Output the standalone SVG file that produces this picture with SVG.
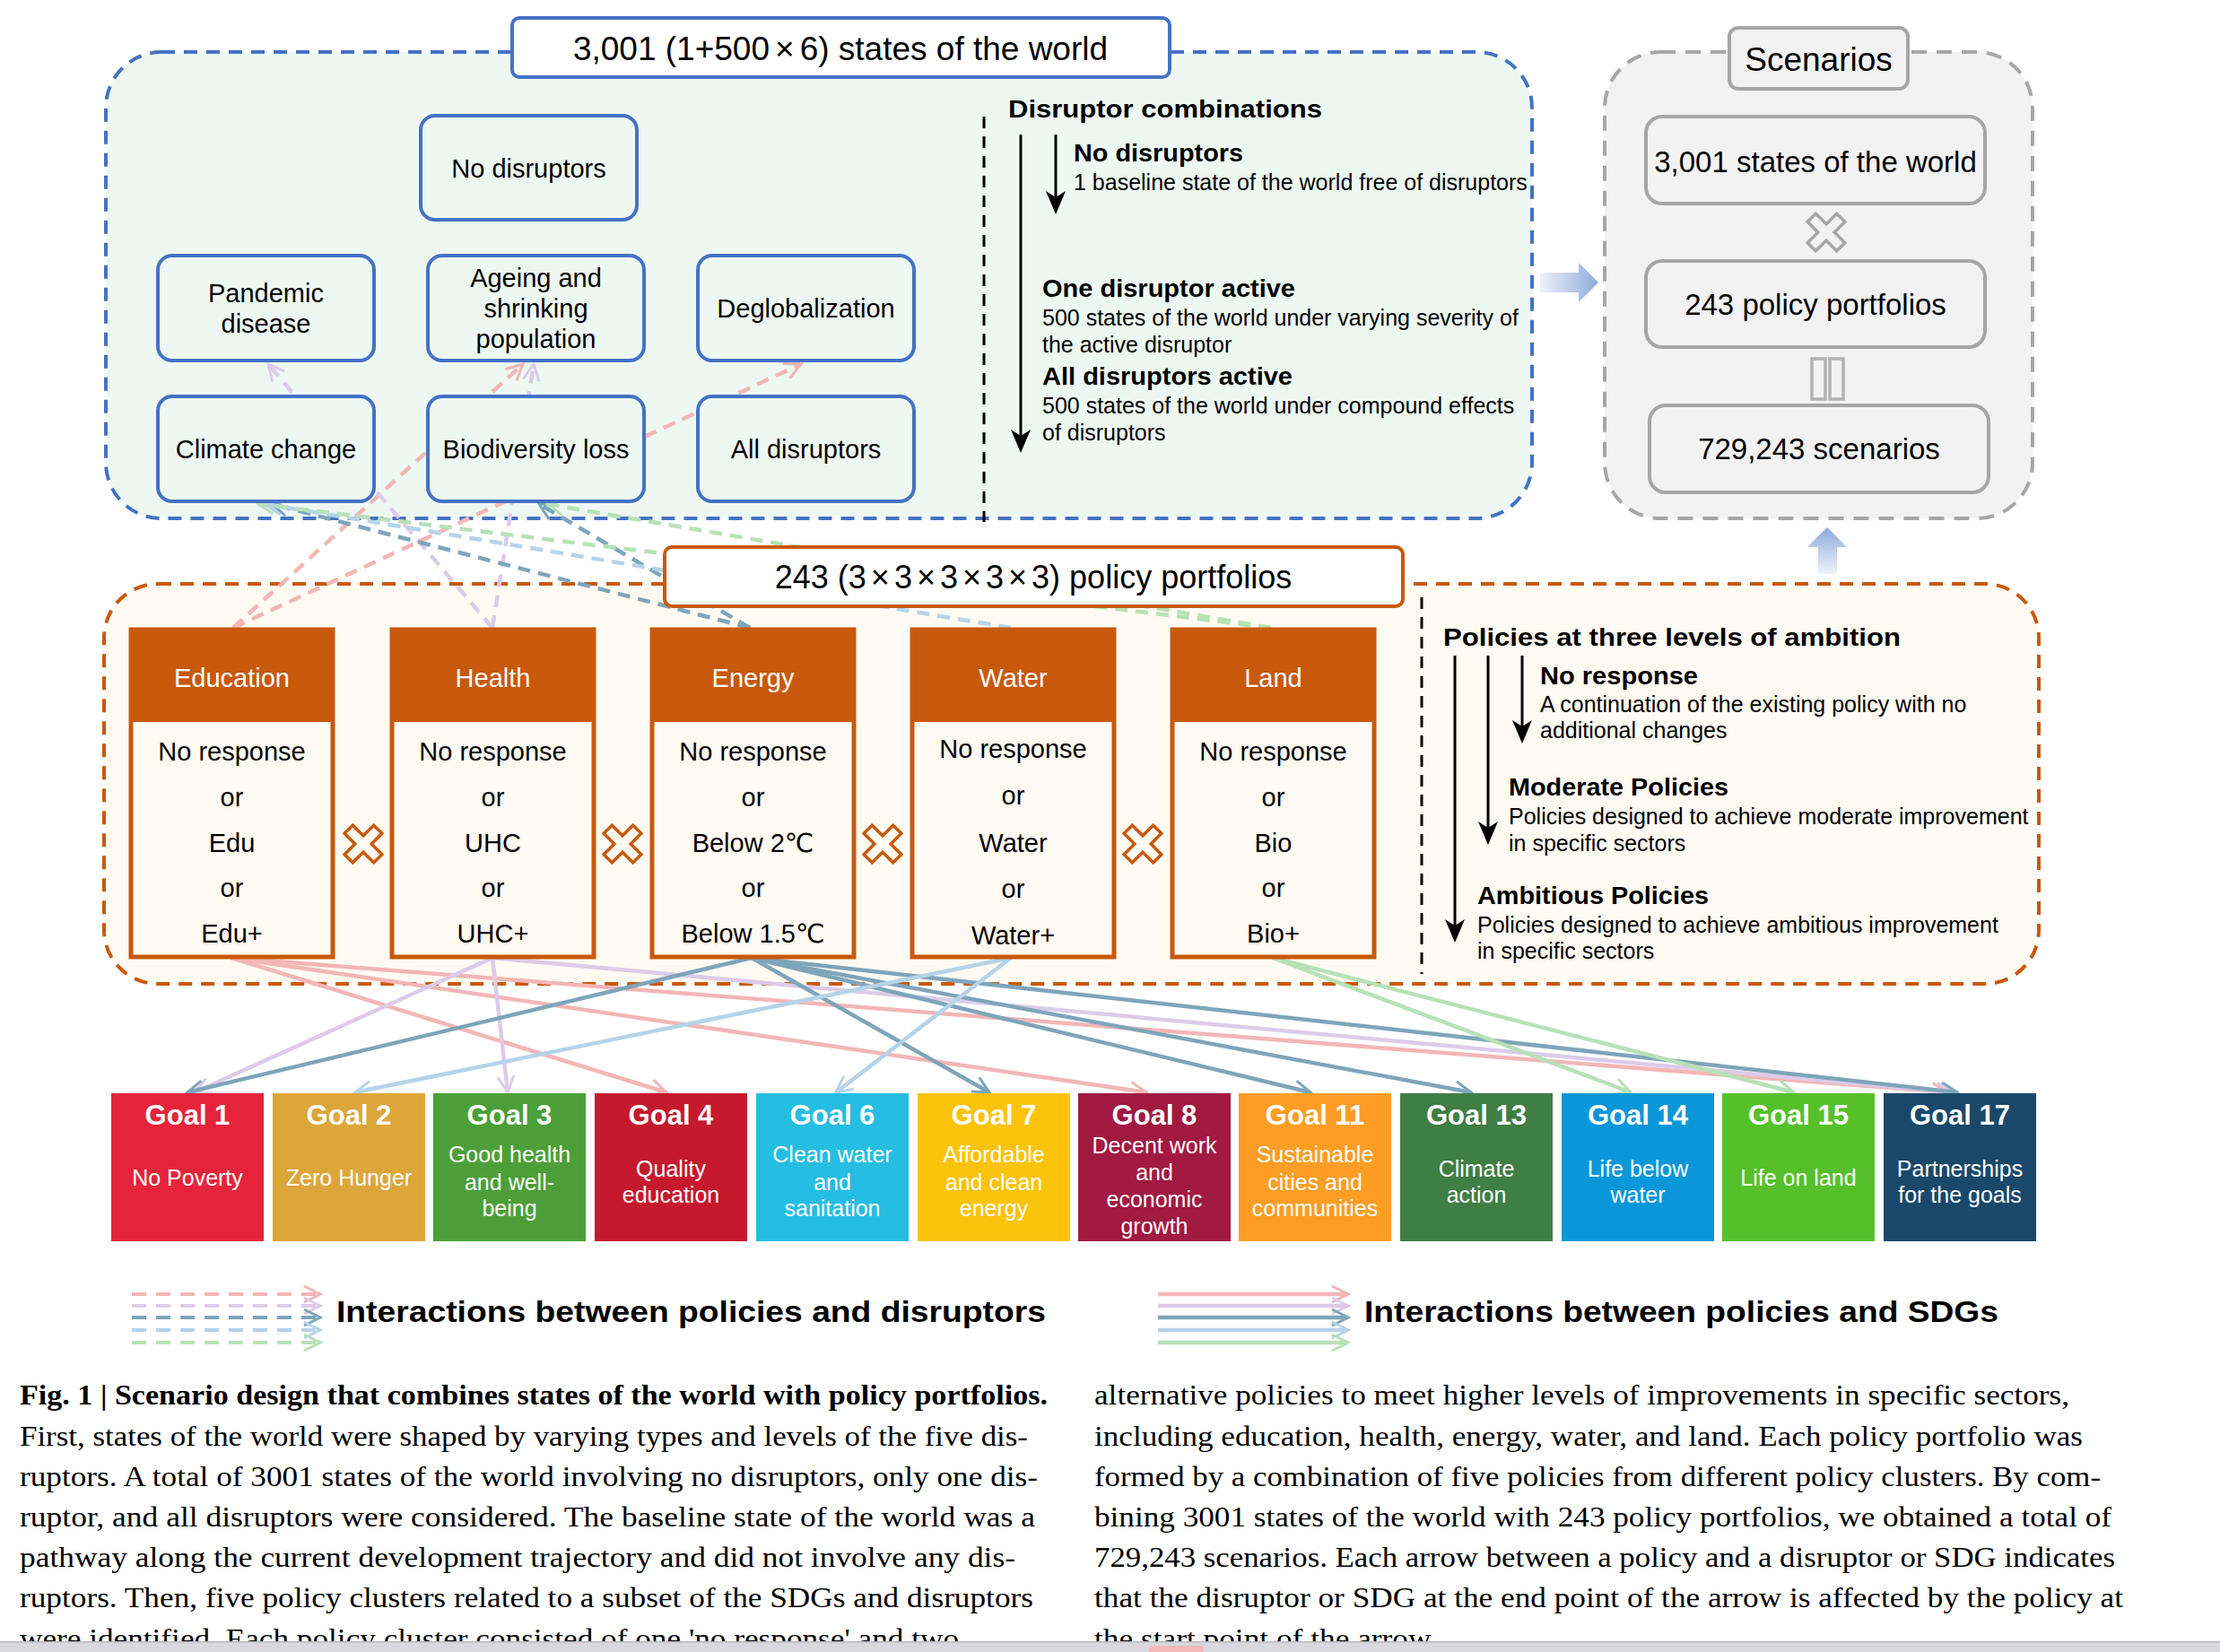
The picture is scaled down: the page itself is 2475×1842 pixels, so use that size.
<svg xmlns="http://www.w3.org/2000/svg" width="2475" height="1842" viewBox="0 0 2475 1842">
<defs>
<style>
text{font-family:'Liberation Sans',Arial,'DejaVu Sans',sans-serif;fill:#000}
.b{font-weight:bold}
.w{fill:#fff}
.m{text-anchor:middle}
.f29{font-size:29px}
.f25{font-size:25px}
.node rect{fill:#eef8f3;stroke:#4472c4;stroke-width:4}
.sbox{fill:#f2f2f2;stroke:#a6a6a6;stroke-width:4}
.col{fill:#fffaf2;stroke:#c8590c;stroke-width:5}
.hdr{fill:#c8590c}
.cap{font-family:'Liberation Serif','Times New Roman',serif;font-size:31px}
.dash{fill:none;stroke-width:4.5;stroke-dasharray:14 9}
.sol{fill:none;stroke-width:4.5}
.ldash{fill:none;stroke-width:4;stroke-dasharray:16 11}
.pk{stroke:#f3b6b6}.lv{stroke:#dccbe9}.st{stroke:#7ea5ba}.lb{stroke:#b5d3e9}.gr{stroke:#b7e1b7}
.vline{stroke:#000;stroke-width:3;stroke-dasharray:13 9}
.arr{stroke:#000;stroke-width:3;marker-end:url(#mbk)}
.xo{fill:#fffaf2;stroke:#c8590c;stroke-width:3.5}
.xg{fill:#f2f2f2;stroke:#a6a6a6;stroke-width:3.5}
</style>
<marker id="mpk" viewBox="0 0 24 24" refX="21" refY="12" markerWidth="24" markerHeight="24" markerUnits="userSpaceOnUse" orient="auto"><path d="M3,3 L21,12 L3,21" fill="none" stroke="#f3b6b6" stroke-width="3"/></marker>
<marker id="mlv" viewBox="0 0 24 24" refX="21" refY="12" markerWidth="24" markerHeight="24" markerUnits="userSpaceOnUse" orient="auto"><path d="M3,3 L21,12 L3,21" fill="none" stroke="#dccbe9" stroke-width="3"/></marker>
<marker id="mst" viewBox="0 0 24 24" refX="21" refY="12" markerWidth="24" markerHeight="24" markerUnits="userSpaceOnUse" orient="auto"><path d="M3,3 L21,12 L3,21" fill="none" stroke="#7ea5ba" stroke-width="3"/></marker>
<marker id="mlb" viewBox="0 0 24 24" refX="21" refY="12" markerWidth="24" markerHeight="24" markerUnits="userSpaceOnUse" orient="auto"><path d="M3,3 L21,12 L3,21" fill="none" stroke="#b5d3e9" stroke-width="3"/></marker>
<marker id="mgr" viewBox="0 0 24 24" refX="21" refY="12" markerWidth="24" markerHeight="24" markerUnits="userSpaceOnUse" orient="auto"><path d="M3,3 L21,12 L3,21" fill="none" stroke="#b7e1b7" stroke-width="3"/></marker>
<marker id="mbk" viewBox="0 0 26 24" refX="18" refY="12" markerWidth="26" markerHeight="24" markerUnits="userSpaceOnUse" orient="auto"><path d="M0,1 L26,12 L0,23 L7,12 Z" fill="#000"/></marker>
<path id="xic" d="M-6.5,-23 H6.5 V-6.5 H23 V6.5 H6.5 V23 H-6.5 V6.5 H-23 V-6.5 H-6.5 Z" transform="rotate(45)"/>
<linearGradient id="gR" x1="0" y1="0" x2="1" y2="0"><stop offset="0" stop-color="#eef2fa"/><stop offset="1" stop-color="#8eaadb"/></linearGradient>
<linearGradient id="gU" x1="0" y1="1" x2="0" y2="0"><stop offset="0" stop-color="#eef2fa"/><stop offset="1" stop-color="#8eaadb"/></linearGradient>
</defs>

<rect width="2475" height="1842" fill="#fff"/>

<g id="panel-states">
<rect x="118" y="58" width="1590" height="520" rx="62" fill="#eef8f3" stroke="#4472c4" stroke-width="4" stroke-dasharray="15 10"/>
</g>
<g id="panel-scenarios">
<rect x="1789" y="58" width="477" height="520" rx="62" fill="#f2f2f2" stroke="#a6a6a6" stroke-width="4" stroke-dasharray="17 11"/>
</g>
<g id="panel-policies">
<rect x="116" y="651" width="2157" height="446" rx="60" fill="#fffaf2" stroke="#c8590c" stroke-width="4" stroke-dasharray="15 10"/>
</g>

<g id="connectors">
<g id="disruptor-links">
<line class="dash pk" x1="260" y1="700" x2="583" y2="406" marker-end="url(#mpk)"/>
<line class="dash pk" x1="260" y1="700" x2="893" y2="406" marker-end="url(#mpk)"/>
<line class="dash lv" x1="549" y1="700" x2="299" y2="406" marker-end="url(#mlv)"/>
<line class="dash lv" x1="549" y1="700" x2="595" y2="406" marker-end="url(#mlv)"/>
<line class="dash st" x1="836" y1="700" x2="303" y2="562" marker-end="url(#mst)"/>
<line class="dash st" x1="836" y1="700" x2="601" y2="562" marker-end="url(#mst)"/>
<line class="dash lb" x1="1127" y1="700" x2="296" y2="562" marker-end="url(#mlb)"/>
<line class="dash gr" x1="1417" y1="700" x2="288" y2="562" marker-end="url(#mgr)"/>
<line class="dash gr" x1="1417" y1="700" x2="610" y2="562" marker-end="url(#mgr)"/>
</g>
<g id="sdg-links">
<line class="sol pk" x1="258" y1="1068" x2="743" y2="1218" marker-end="url(#mpk)"/>
<line class="sol pk" x1="258" y1="1068" x2="1278" y2="1218" marker-end="url(#mpk)"/>
<line class="sol pk" x1="258" y1="1068" x2="2172" y2="1218" marker-end="url(#mpk)"/>
<line class="sol lv" x1="549" y1="1068" x2="217" y2="1218" marker-end="url(#mlv)"/>
<line class="sol lv" x1="549" y1="1068" x2="566" y2="1218" marker-end="url(#mlv)"/>
<line class="sol lv" x1="549" y1="1068" x2="2177" y2="1218" marker-end="url(#mlv)"/>
<line class="sol st" x1="838" y1="1068" x2="209" y2="1218" marker-end="url(#mst)"/>
<line class="sol st" x1="838" y1="1068" x2="1103" y2="1218" marker-end="url(#mst)"/>
<line class="sol st" x1="838" y1="1068" x2="1461" y2="1218" marker-end="url(#mst)"/>
<line class="sol st" x1="838" y1="1068" x2="1640" y2="1218" marker-end="url(#mst)"/>
<line class="sol st" x1="838" y1="1068" x2="2182" y2="1218" marker-end="url(#mst)"/>
<line class="sol lb" x1="1127" y1="1068" x2="396" y2="1218" marker-end="url(#mlb)"/>
<line class="sol lb" x1="1127" y1="1068" x2="932" y2="1218" marker-end="url(#mlb)"/>
<line class="sol gr" x1="1419" y1="1068" x2="1818" y2="1218" marker-end="url(#mgr)"/>
<line class="sol gr" x1="1419" y1="1068" x2="2000" y2="1218" marker-end="url(#mgr)"/>
</g>
</g>

<g id="title-states">
<rect x="571" y="20" width="733" height="66" rx="8" fill="#fff" stroke="#4472c4" stroke-width="4"/>
<text x="937" y="67" class="m" font-size="37">3,001 (1+500<tspan dx="6">×</tspan><tspan dx="6">6) states of the world</tspan></text>
</g>

<g id="node-no-disruptors" class="node"><rect x="469" y="129" width="241" height="116" rx="16"/><text x="589.5" y="198" class="m f29">No disruptors</text></g>
<g id="node-pandemic" class="node"><rect x="176" y="285" width="241" height="117" rx="16"/><text x="296.5" y="337" class="m f29">Pandemic</text><text x="296.5" y="371" class="m f29">disease</text></g>
<g id="node-ageing" class="node"><rect x="477" y="285" width="241" height="117" rx="16"/><text x="597.5" y="320" class="m f29">Ageing and</text><text x="597.5" y="354" class="m f29">shrinking</text><text x="597.5" y="388" class="m f29">population</text></g>
<g id="node-deglobalization" class="node"><rect x="778" y="285" width="241" height="117" rx="16"/><text x="898.5" y="354" class="m f29">Deglobalization</text></g>
<g id="node-climate" class="node"><rect x="176" y="442" width="241" height="117" rx="16"/><text x="296.5" y="511" class="m f29">Climate change</text></g>
<g id="node-biodiversity" class="node"><rect x="477" y="442" width="241" height="117" rx="16"/><text x="597.5" y="511" class="m f29">Biodiversity loss</text></g>
<g id="node-all" class="node"><rect x="778" y="442" width="241" height="117" rx="16"/><text x="898.5" y="511" class="m f29">All disruptors</text></g>

<g id="disruptor-legend">
<line class="vline" x1="1097" y1="130" x2="1097" y2="582"/>
<text x="1124" y="131" class="b" font-size="28" textLength="350" lengthAdjust="spacingAndGlyphs">Disruptor combinations</text>
<line class="arr" x1="1138" y1="150" x2="1138" y2="497"/>
<line class="arr" x1="1177" y1="150" x2="1177" y2="231"/>
<text x="1197" y="180" class="b" font-size="27" textLength="189" lengthAdjust="spacingAndGlyphs">No disruptors</text>
<text x="1197" y="212" class="f25">1 baseline state of the world free of disruptors</text>
<text x="1162" y="331" class="b" font-size="27" textLength="282" lengthAdjust="spacingAndGlyphs">One disruptor active</text>
<text x="1162" y="363" class="f25">500 states of the world under varying severity of</text>
<text x="1162" y="393" class="f25">the active disruptor</text>
<text x="1162" y="429" class="b" font-size="27" textLength="279" lengthAdjust="spacingAndGlyphs">All disruptors active</text>
<text x="1162" y="461" class="f25">500 states of the world under compound effects</text>
<text x="1162" y="491" class="f25">of disruptors</text>
</g>

<g id="scenarios">
<rect class="sbox" x="1928" y="31" width="199" height="68" rx="10"/>
<text x="2027.5" y="79" class="m" font-size="37">Scenarios</text>
<rect class="sbox" x="1835" y="130" width="378" height="97" rx="18"/>
<text x="2024" y="192" class="m" font-size="33">3,001 states of the world</text>
<use href="#xic" x="2036" y="259" class="xg"/>
<rect class="sbox" x="1835" y="291" width="378" height="96" rx="18"/>
<text x="2024" y="351" class="m" font-size="33">243 policy portfolios</text>
<rect x="2020" y="400" width="15" height="45" fill="none" stroke="#b3b3b3" stroke-width="3.5"/>
<rect x="2040" y="400" width="15" height="45" fill="none" stroke="#b3b3b3" stroke-width="3.5"/>
<rect class="sbox" x="1839" y="452" width="378" height="97" rx="18"/>
<text x="2028" y="512" class="m" font-size="33">729,243 scenarios</text>
</g>
<g id="flow-arrows">
<path d="M1717,304 H1760 V293 L1782,315 L1760,337 V326 H1717 Z" fill="url(#gR)"/>
<path d="M2027,640 V610 H2015 L2037,588 L2059,610 H2048 V640 Z" fill="url(#gU)"/>
</g>

<g id="title-policies">
<rect x="741" y="610" width="823" height="66" rx="8" fill="#fff" stroke="#c8590c" stroke-width="4"/>
<text x="1152" y="656" class="m" font-size="36">243 (3<tspan dx="5">×</tspan><tspan dx="5">3</tspan><tspan dx="5">×</tspan><tspan dx="5">3</tspan><tspan dx="5">×</tspan><tspan dx="5">3</tspan><tspan dx="5">×</tspan><tspan dx="5">3) policy portfolios</tspan></text>
</g>

<g id="policy-education"><rect class="col" x="146" y="702" width="225" height="365"/><rect class="hdr" x="146" y="702" width="225" height="103"/>
<text x="258.5" y="766" class="m f29 w">Education</text><text x="258.5" y="848" class="m f29">No response</text><text x="258.5" y="899" class="m f29">or</text><text x="258.5" y="950" class="m f29">Edu</text><text x="258.5" y="1000" class="m f29">or</text><text x="258.5" y="1051" class="m f29">Edu+</text></g>
<g id="policy-health"><rect class="col" x="437" y="702" width="225" height="365"/><rect class="hdr" x="437" y="702" width="225" height="103"/>
<text x="549.5" y="766" class="m f29 w">Health</text><text x="549.5" y="848" class="m f29">No response</text><text x="549.5" y="899" class="m f29">or</text><text x="549.5" y="950" class="m f29">UHC</text><text x="549.5" y="1000" class="m f29">or</text><text x="549.5" y="1051" class="m f29">UHC+</text></g>
<g id="policy-energy"><rect class="col" x="727" y="702" width="225" height="365"/><rect class="hdr" x="727" y="702" width="225" height="103"/>
<text x="839.5" y="766" class="m f29 w">Energy</text><text x="839.5" y="848" class="m f29">No response</text><text x="839.5" y="899" class="m f29">or</text><text x="839.5" y="950" class="m f29">Below 2℃</text><text x="839.5" y="1000" class="m f29">or</text><text x="839.5" y="1051" class="m f29">Below 1.5℃</text></g>
<g id="policy-water"><rect class="col" x="1017" y="702" width="225" height="365"/><rect class="hdr" x="1017" y="702" width="225" height="103"/>
<text x="1129.5" y="766" class="m f29 w">Water</text><text x="1129.5" y="845" class="m f29">No response</text><text x="1129.5" y="897" class="m f29">or</text><text x="1129.5" y="950" class="m f29">Water</text><text x="1129.5" y="1001" class="m f29">or</text><text x="1129.5" y="1053" class="m f29">Water+</text></g>
<g id="policy-land"><rect class="col" x="1307" y="702" width="225" height="365"/><rect class="hdr" x="1307" y="702" width="225" height="103"/>
<text x="1419.5" y="766" class="m f29 w">Land</text><text x="1419.5" y="848" class="m f29">No response</text><text x="1419.5" y="899" class="m f29">or</text><text x="1419.5" y="950" class="m f29">Bio</text><text x="1419.5" y="1000" class="m f29">or</text><text x="1419.5" y="1051" class="m f29">Bio+</text></g>
<g id="combine-icons">
<use href="#xic" x="405" y="941" class="xo"/>
<use href="#xic" x="694" y="941" class="xo"/>
<use href="#xic" x="984" y="941" class="xo"/>
<use href="#xic" x="1274" y="941" class="xo"/>
</g>

<g id="ambition-legend">
<line class="vline" x1="1585" y1="666" x2="1585" y2="1086"/>
<text x="1609" y="720" class="b" font-size="28" textLength="510" lengthAdjust="spacingAndGlyphs">Policies at three levels of ambition</text>
<line class="arr" x1="1622" y1="731" x2="1622" y2="1043"/>
<line class="arr" x1="1659" y1="731" x2="1659" y2="934"/>
<line class="arr" x1="1697" y1="731" x2="1697" y2="821"/>
<text x="1717" y="763" class="b" font-size="27" textLength="176" lengthAdjust="spacingAndGlyphs">No response</text>
<text x="1717" y="794" class="f25">A continuation of the existing policy with no</text>
<text x="1717" y="823" class="f25">additional changes</text>
<text x="1682" y="887" class="b" font-size="27" textLength="245" lengthAdjust="spacingAndGlyphs">Moderate Policies</text>
<text x="1682" y="919" class="f25">Policies designed to achieve moderate improvement</text>
<text x="1682" y="949" class="f25">in specific sectors</text>
<text x="1647" y="1008" class="b" font-size="27" textLength="258" lengthAdjust="spacingAndGlyphs">Ambitious Policies</text>
<text x="1647" y="1040" class="f25">Policies designed to achieve ambitious improvement</text>
<text x="1647" y="1069" class="f25">in specific sectors</text>
</g>

<g id="goal-1"><rect x="124" y="1219" width="170" height="165" fill="#e5243b"/><text x="209" y="1254" class="m b w" font-size="31">Goal 1</text><text x="209" y="1322" class="m f25 w">No Poverty</text></g>
<g id="goal-2"><rect x="304" y="1219" width="170" height="165" fill="#dda63a"/><text x="389" y="1254" class="m b w" font-size="31">Goal 2</text><text x="389" y="1322" class="m f25 w">Zero Hunger</text></g>
<g id="goal-3"><rect x="483" y="1219" width="170" height="165" fill="#4c9f38"/><text x="568" y="1254" class="m b w" font-size="31">Goal 3</text><text x="568" y="1296" class="m f25 w">Good health</text><text x="568" y="1327" class="m f25 w">and well-</text><text x="568" y="1356" class="m f25 w">being</text></g>
<g id="goal-4"><rect x="663" y="1219" width="170" height="165" fill="#c5192d"/><text x="748" y="1254" class="m b w" font-size="31">Goal 4</text><text x="748" y="1312" class="m f25 w">Quality</text><text x="748" y="1341" class="m f25 w">education</text></g>
<g id="goal-6"><rect x="843" y="1219" width="170" height="165" fill="#26bde2"/><text x="928" y="1254" class="m b w" font-size="31">Goal 6</text><text x="928" y="1296" class="m f25 w">Clean water</text><text x="928" y="1327" class="m f25 w">and</text><text x="928" y="1356" class="m f25 w">sanitation</text></g>
<g id="goal-7"><rect x="1023" y="1219" width="170" height="165" fill="#fcc30b"/><text x="1108" y="1254" class="m b w" font-size="31">Goal 7</text><text x="1108" y="1296" class="m f25 w">Affordable</text><text x="1108" y="1327" class="m f25 w">and clean</text><text x="1108" y="1356" class="m f25 w">energy</text></g>
<g id="goal-8"><rect x="1202" y="1219" width="170" height="165" fill="#a21942"/><text x="1287" y="1254" class="m b w" font-size="31">Goal 8</text><text x="1287" y="1286" class="m f25 w">Decent work</text><text x="1287" y="1316" class="m f25 w">and</text><text x="1287" y="1346" class="m f25 w">economic</text><text x="1287" y="1376" class="m f25 w">growth</text></g>
<g id="goal-11"><rect x="1381" y="1219" width="170" height="165" fill="#fd9d24"/><text x="1466" y="1254" class="m b w" font-size="31">Goal 11</text><text x="1466" y="1296" class="m f25 w">Sustainable</text><text x="1466" y="1327" class="m f25 w">cities and</text><text x="1466" y="1356" class="m f25 w">communities</text></g>
<g id="goal-13"><rect x="1561" y="1219" width="170" height="165" fill="#3f7e44"/><text x="1646" y="1254" class="m b w" font-size="31">Goal 13</text><text x="1646" y="1312" class="m f25 w">Climate</text><text x="1646" y="1341" class="m f25 w">action</text></g>
<g id="goal-14"><rect x="1741" y="1219" width="170" height="165" fill="#0a97d9"/><text x="1826" y="1254" class="m b w" font-size="31">Goal 14</text><text x="1826" y="1312" class="m f25 w">Life below</text><text x="1826" y="1341" class="m f25 w">water</text></g>
<g id="goal-15"><rect x="1920" y="1219" width="170" height="165" fill="#56c02b"/><text x="2005" y="1254" class="m b w" font-size="31">Goal 15</text><text x="2005" y="1322" class="m f25 w">Life on land</text></g>
<g id="goal-17"><rect x="2100" y="1219" width="170" height="165" fill="#19486a"/><text x="2185" y="1254" class="m b w" font-size="31">Goal 17</text><text x="2185" y="1312" class="m f25 w">Partnerships</text><text x="2185" y="1341" class="m f25 w">for the goals</text></g>

<g id="legend-disruptors">
<line class="ldash pk" x1="147" y1="1443" x2="357" y2="1443" marker-end="url(#mpk)"/>
<line class="ldash lv" x1="147" y1="1456" x2="357" y2="1456" marker-end="url(#mlv)"/>
<line class="ldash st" x1="147" y1="1469" x2="357" y2="1469" marker-end="url(#mst)"/>
<line class="ldash lb" x1="147" y1="1483" x2="357" y2="1483" marker-end="url(#mlb)"/>
<line class="ldash gr" x1="147" y1="1497" x2="357" y2="1497" marker-end="url(#mgr)"/>
<text x="375" y="1474" class="b" font-size="34" textLength="791" lengthAdjust="spacingAndGlyphs">Interactions between policies and disruptors</text>
</g>
<g id="legend-sdgs">
<line class="sol pk" x1="1291" y1="1443" x2="1503" y2="1443" marker-end="url(#mpk)"/>
<line class="sol lv" x1="1291" y1="1456" x2="1503" y2="1456" marker-end="url(#mlv)"/>
<line class="sol st" x1="1291" y1="1469" x2="1503" y2="1469" marker-end="url(#mst)"/>
<line class="sol lb" x1="1291" y1="1483" x2="1503" y2="1483" marker-end="url(#mlb)"/>
<line class="sol gr" x1="1291" y1="1497" x2="1503" y2="1497" marker-end="url(#mgr)"/>
<text x="1521" y="1474" class="b" font-size="34" textLength="707" lengthAdjust="spacingAndGlyphs">Interactions between policies and SDGs</text>
</g>

<g id="caption">
<text x="22" y="1566" class="cap b" textLength="1146" lengthAdjust="spacingAndGlyphs">Fig. 1 | Scenario design that combines states of the world with policy portfolios.</text>
<text x="22" y="1612" class="cap" textLength="1124" lengthAdjust="spacingAndGlyphs">First, states of the world were shaped by varying types and levels of the five dis-</text>
<text x="22" y="1657" class="cap" textLength="1135" lengthAdjust="spacingAndGlyphs">ruptors. A total of 3001 states of the world involving no disruptors, only one dis-</text>
<text x="22" y="1702" class="cap" textLength="1132" lengthAdjust="spacingAndGlyphs">ruptor, and all disruptors were considered. The baseline state of the world was a</text>
<text x="22" y="1747" class="cap" textLength="1110" lengthAdjust="spacingAndGlyphs">pathway along the current development trajectory and did not involve any dis-</text>
<text x="22" y="1792" class="cap" textLength="1130" lengthAdjust="spacingAndGlyphs">ruptors. Then, five policy clusters related to a subset of the SDGs and disruptors</text>
<text x="22" y="1838" class="cap" textLength="1047" lengthAdjust="spacingAndGlyphs">were identified. Each policy cluster consisted of one 'no response' and two</text>
<text x="1220" y="1566" class="cap" textLength="1087" lengthAdjust="spacingAndGlyphs">alternative policies to meet higher levels of improvements in specific sectors,</text>
<text x="1220" y="1612" class="cap" textLength="1102" lengthAdjust="spacingAndGlyphs">including education, health, energy, water, and land. Each policy portfolio was</text>
<text x="1220" y="1657" class="cap" textLength="1122" lengthAdjust="spacingAndGlyphs">formed by a combination of five policies from different policy clusters. By com-</text>
<text x="1220" y="1702" class="cap" textLength="1134" lengthAdjust="spacingAndGlyphs">bining 3001 states of the world with 243 policy portfolios, we obtained a total of</text>
<text x="1220" y="1747" class="cap" textLength="1138" lengthAdjust="spacingAndGlyphs">729,243 scenarios. Each arrow between a policy and a disruptor or SDG indicates</text>
<text x="1220" y="1792" class="cap" textLength="1147" lengthAdjust="spacingAndGlyphs">that the disruptor or SDG at the end point of the arrow is affected by the policy at</text>
<text x="1220" y="1838" class="cap" textLength="382" lengthAdjust="spacingAndGlyphs">the start point of the arrow.</text>
</g>

<g id="bottom-bar">
<rect x="0" y="1830" width="2475" height="12" fill="#d8d8de"/>
<rect x="0" y="1830" width="2475" height="1.5" fill="#b8b8c0"/>
<rect x="1281" y="1835" width="61" height="10" rx="4" fill="#f2b8b8"/>
</g>
</svg>
